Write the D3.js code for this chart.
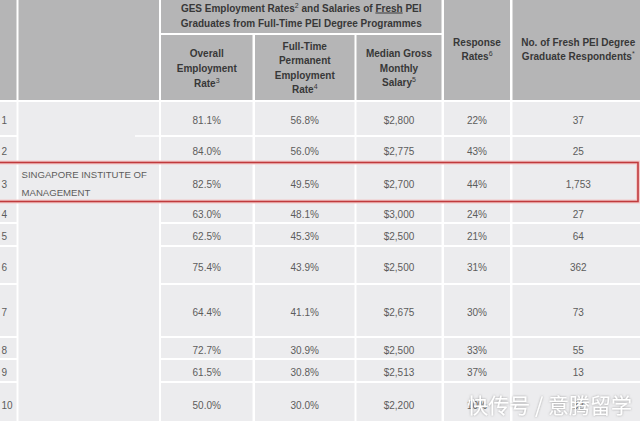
<!DOCTYPE html>
<html>
<head>
<meta charset="utf-8">
<script src="https://cdn.jsdelivr.net/npm/d3@7"></script>
<style>
  body { margin:0; background:#fff; }
  svg { display:block; font-family:"Liberation Sans", Arial, sans-serif; }
</style>
</head>
<body>
<svg width="640" height="421"></svg>
<script>
// table values
var ranks = [1,2,3,4,5,6,7,8,9,10]
var names = ["","","SINGAPORE INSTITUTE OF|MANAGEMENT","","","","","","",""]
var overallRate = [81.1,84.0,82.5,63.0,62.5,75.4,64.4,72.7,61.5,50.0]
var permRate = [56.8,56.0,49.5,48.1,45.3,43.9,41.1,30.9,30.8,30.0]
var salary = [2800,2775,2700,3000,2500,2500,2675,2500,2513,2200]
var responseRate = [22,43,44,24,21,31,30,33,37,10]
var respondents = [37,25,1753,27,64,362,73,55,13,32]

var highlightRow = 2

// layout
var colKeys = ["rank","name","overall","perm","salary","response","count"]
var colEdges = [[-4,16.5],[18.5,159],[161,252.5],[255,354.5],[356.5,441.5],[444,510],[512.5,644]]
var rowHeights = [33,25,36,20,21,36,51,20,21,40]
var gap = 2
var bodyTop = 102

var svg = d3.select("svg")

var defs = svg.append("defs")
defs.append("filter").attr("id","shadow")
    .attr("x","-10%").attr("y","-30%").attr("width","120%").attr("height","160%")
    .append("feDropShadow")
    .attr("dx",0).attr("dy",0).attr("stdDeviation",0.9)
    .attr("flood-color","#777").attr("flood-opacity",0.7)

var colX = d3.scaleOrdinal().domain(colKeys).range(colEdges)
var rowIdx = d3.range(ranks.length)
var tops = []
var acc = bodyTop
rowHeights.forEach(function(h){ tops.push(acc); acc += h + gap })
var rowY = d3.scaleOrdinal().domain(rowIdx).range(tops)
var rowH = d3.scaleOrdinal().domain(rowIdx).range(rowHeights)

var headFill = "#b5b5b6"
var bodyFill = "#ececee"

// header cells
var head = svg.append("g").attr("id","header")
var cellRect = function(g, key0, key1, y0, y1, fill)
    {
        g.append("rect")
            .attr("x", colX(key0)[0])
            .attr("y", y0)
            .attr("width", colX(key1)[1] - colX(key0)[0])
            .attr("height", y1 - y0)
            .attr("fill", fill)
    }

cellRect(head,"rank","rank",-10,100,headFill)
cellRect(head,"name","name",-10,100,headFill)
cellRect(head,"overall","salary",-10,33,headFill)
cellRect(head,"overall","overall",35,100,headFill)
cellRect(head,"perm","perm",35,100,headFill)
cellRect(head,"salary","salary",35,100,headFill)
cellRect(head,"response","response",-10,100,headFill)
cellRect(head,"count","count",-10,100,headFill)

var mid = function(key){ var e = colX(key); return (e[0]+e[1])/2 }

// header text: lines as arrays of parts
var headText = function(x, yMid, lines, step)
    {
        var t = head.append("text")
            .attr("text-anchor","middle")
            .attr("font-size",10)
            .attr("font-weight","bold")
            .attr("fill","#383838")
        var y0 = yMid - (lines.length-1)*step/2
        lines.forEach(function(ln,i)
            {
                var row = t.append("tspan").attr("x",x).attr("y",y0+i*step+3.5)
                ln.forEach(function(part)
                    {
                        var s = row.append("tspan").text(part.t)
                        if(part.sup){ s.attr("font-size",7).attr("font-weight","normal").attr("dy",-4) }
                        if(part.after){ s.attr("dy",4) }
                        if(part.u){ s.attr("text-decoration","underline") }
                    })
            })
    }

headText((colX("overall")[0]+colX("salary")[1])/2, 15.5,
    [[{t:"GES Employment Rates"},{t:"2",sup:true},{t:" and Salaries of ",after:true},{t:"Fresh",u:true},{t:" PEI"}],
     [{t:"Graduates from Full-Time PEI Degree Programmes"}]], 15)
headText(mid("overall"),68,[[{t:"Overall"}],[{t:"Employment"}],[{t:"Rate"},{t:"3",sup:true}]],15)
headText(mid("perm"),68,[[{t:"Full-Time"}],[{t:"Permanent"}],[{t:"Employment"}],[{t:"Rate"},{t:"4",sup:true}]],14.5)
headText(mid("salary"),68,[[{t:"Median Gross"}],[{t:"Monthly"}],[{t:"Salary"},{t:"5",sup:true}]],14.5)
headText(mid("response"),49,[[{t:"Response"}],[{t:"Rates"},{t:"6",sup:true}]],14)
headText(mid("count"),49,[[{t:"No. of Fresh PEI Degree"}],[{t:"Graduate Respondents"},{t:"*",sup:true}]],14)

// body cells
var body = svg.append("g").attr("id","body")
var valueCols = ["rank","overall","perm","salary","response","count"]
rowIdx.forEach(function(i)
    {
        valueCols.forEach(function(k)
            {
                body.append("rect")
                    .attr("x", colX(k)[0])
                    .attr("y", rowY(i))
                    .attr("width", colX(k)[1]-colX(k)[0])
                    .attr("height", rowH(i))
                    .attr("fill", bodyFill)
            })
    })

// name column: merged blocks
var nameBlocks = [[0,1],[2,2],[3,9]]
nameBlocks.forEach(function(b)
    {
        body.append("rect")
            .attr("x", colX("name")[0])
            .attr("y", rowY(b[0]))
            .attr("width", colX("name")[1]-colX("name")[0])
            .attr("height", rowY(b[1]) + rowH(b[1]) - rowY(b[0]))
            .attr("fill", bodyFill)
    })
body.append("line")
    .attr("x1",135).attr("x2",colX("name")[1])
    .attr("y1",rowY(1)-1).attr("y2",rowY(1)-1)
    .attr("stroke","#fff").attr("stroke-width",1.5)

var pct1 = function(v){ return d3.format(".1f")(v) + "%" }
var cells = [
    {key:"overall", vals:overallRate, f:pct1},
    {key:"perm", vals:permRate, f:pct1},
    {key:"salary", vals:salary, f:d3.format("$,")},
    {key:"response", vals:responseRate, f:function(v){ return v + "%" }},
    {key:"count", vals:respondents, f:d3.format(",")}
]

var textG = svg.append("g")
    .attr("font-size",10)
    .attr("fill","#5c5c5c")

cells.forEach(function(c)
    {
        textG.append("g")
            .selectAll("text")
            .data(c.vals)
            .enter()
            .append("text")
            .attr("x", mid(c.key))
            .attr("y", function(v,i){ return rowY(i) + rowH(i)/2 + 5.5 })
            .attr("text-anchor","middle")
            .text(c.f)
    })

textG.append("g")
    .selectAll("text")
    .data(ranks)
    .enter()
    .append("text")
    .attr("x", 1.5)
    .attr("y", function(v,i){ return rowY(i) + rowH(i)/2 + 5.5 })
    .text(function(v){ return v })

names.forEach(function(n,i)
    {
        if(!n) return
        var parts = n.split("|")
        var t = textG.append("text").attr("font-size",9.6)
        parts.forEach(function(p,j)
            {
                t.append("tspan")
                    .attr("x", colX("name")[0]+3)
                    .attr("y", rowY(i) + rowH(i)/2 - (parts.length-1)*17.5/2 + j*17.5 + 5)
                    .text(p)
            })
    })

// red highlight box
var hb = svg.append("g")
hb.append("rect")
    .attr("x",-3).attr("y",rowY(highlightRow)-1.5)
    .attr("width",641).attr("height",rowH(highlightRow)+3)
    .attr("fill","none").attr("stroke","#f3c9c9").attr("stroke-width",4)
hb.append("rect")
    .attr("x",-3).attr("y",rowY(highlightRow)-1.5)
    .attr("width",641).attr("height",rowH(highlightRow)+3)
    .attr("fill","none").attr("stroke","#c03a3c").attr("stroke-width",1.6)

// watermark
svg.append("text")
    .attr("x",632).attr("y",413)
    .attr("text-anchor","end")
    .attr("font-family","'Noto Sans CJK SC', sans-serif")
    .attr("font-size",21)
    .attr("fill","#ffffff")
    .attr("filter","url(#shadow)")
    .text("快传号 / 意腾留学")
</script>
</body>
</html>
